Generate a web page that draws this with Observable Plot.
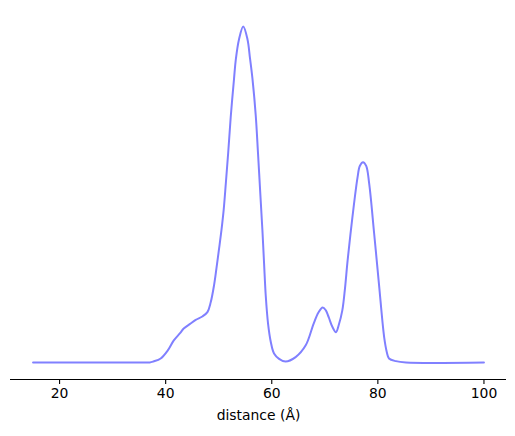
<!DOCTYPE html>
<html>
<head>
<meta charset="utf-8">
<script src="https://cdn.jsdelivr.net/npm/d3@7"></script>
<script src="https://cdn.jsdelivr.net/npm/@observablehq/plot@0.6"></script>
<style>
  html, body { margin: 0; padding: 0; background: #fff; }
  svg { font-family: "DejaVu Sans", sans-serif; }
</style>
</head>
<body>
<div id="chart"></div>
<script>
const distance = [15, 27.7, 35.3, 37.0, 37.7, 39.06, 40.4, 41.5, 42.8, 43.4, 44.7, 45.66, 46.92, 47.87, 48.49, 49.11, 49.57, 50.06, 50.51, 50.94, 51.35, 51.79, 52.26, 52.89, 53.21, 53.83, 54.62, 55.42, 55.9, 56.36, 56.98, 57.4, 57.85, 58.24, 58.55, 58.87, 59.3, 59.81, 60.43, 61.38, 62.6, 64.5, 66.4, 67.9, 68.8, 69.6, 70.2, 70.75, 71.4, 72.1, 72.6, 73.3, 73.8, 74.3, 75.2, 76.17, 76.6, 77.2, 77.8, 78.36, 79.3, 80.2, 81.2, 81.7, 82.1, 83.4, 85.3, 100];
const density = [0, 0, 0, 0, 0.003, 0.012, 0.036, 0.065, 0.089, 0.101, 0.116, 0.127, 0.137, 0.150, 0.179, 0.229, 0.28, 0.338, 0.393, 0.455, 0.535, 0.625, 0.73, 0.845, 0.9, 0.962, 1.0, 0.962, 0.905, 0.845, 0.735, 0.625, 0.5, 0.393, 0.295, 0.198, 0.116, 0.062, 0.027, 0.011, 0.003, 0.016, 0.051, 0.116, 0.149, 0.164, 0.155, 0.134, 0.107, 0.090, 0.110, 0.155, 0.22, 0.304, 0.432, 0.551, 0.585, 0.596, 0.585, 0.533, 0.384, 0.235, 0.074, 0.030, 0.012, 0.004, 0, 0];
const xTicks = [20, 40, 60, 80, 100];
const xLabel = "distance (Å)";

const data = distance.map((d, i) => ({x: d, y: density[i]}));

const chart = Plot.plot({
  width: 515,
  height: 436,
  marginLeft: 10,
  marginRight: 9,
  marginTop: 9,
  marginBottom: 57,
  style: {fontFamily: "'DejaVu Sans', sans-serif", fontSize: "13.9px", color: "#000", background: "#fff"},
  x: {domain: [10.75, 104.25]},
  y: {domain: [-0.0506, 1.0506], axis: null},
  marks: [
    Plot.ruleY([-0.0506], {stroke: "#000", strokeWidth: 1.1}),
    Plot.axisX({ticks: xTicks, tickSize: 4.9, tickPadding: 3.5, label: null, tickFormat: d => String(d), fontSize: 13.9, strokeWidth: 1.1}),
    Plot.line(data, {x: "x", y: "y", stroke: "#8080ff", strokeWidth: 2, curve: "catmull-rom"}),
    Plot.text([xLabel], {frameAnchor: "bottom", dy: 40, text: d => d, fontSize: 13.9, fill: "#000"})
  ]
});
document.getElementById("chart").appendChild(chart);
</script>
</body>
</html>
